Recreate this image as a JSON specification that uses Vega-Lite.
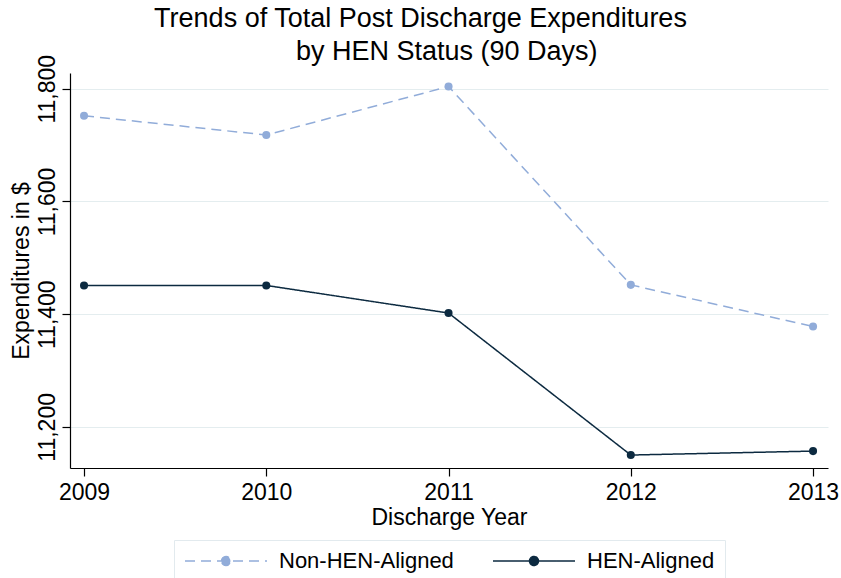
{
  "$schema": "https://vega.github.io/schema/vega-lite/v6.json",
  "width": 758,
  "height": 395,
  "autosize": {"type": "none"},
  "padding": {"left": 70, "top": 73, "right": 13, "bottom": 110},
  "background": "white",
  "title": {
    "text": ["Trends of Total Post Discharge Expenditures", "\u200b\u00a0\u00a0\u00a0\u00a0\u00a0\u00a0\u00a0by HEN Status (90 Days)"],
    "fontSize": 27,
    "font": "Liberation Sans",
    "fontWeight": "normal",
    "color": "black",
    "anchor": "middle",
    "dx": -28.5,
    "lineHeight": 33,
    "offset": -12
  },
  "data": {
    "values": [
      {"year": 2009, "group": "Non-HEN-Aligned", "value": 11752},
      {"year": 2010, "group": "Non-HEN-Aligned", "value": 11718},
      {"year": 2011, "group": "Non-HEN-Aligned", "value": 11804},
      {"year": 2012, "group": "Non-HEN-Aligned", "value": 11452},
      {"year": 2013, "group": "Non-HEN-Aligned", "value": 11378},
      {"year": 2009, "group": "HEN-Aligned", "value": 11451},
      {"year": 2010, "group": "HEN-Aligned", "value": 11451},
      {"year": 2011, "group": "HEN-Aligned", "value": 11402},
      {"year": 2012, "group": "HEN-Aligned", "value": 11150},
      {"year": 2013, "group": "HEN-Aligned", "value": 11157}
    ]
  },
  "encoding": {
    "x": {
      "field": "year",
      "type": "quantitative",
      "scale": {"domain": [2008.923, 2013.082], "nice": false, "zero": false},
      "axis": {"values": [2009, 2010, 2011, 2012, 2013], "format": "d", "title": "Discharge Year", "grid": false, "labelPadding": 5, "titlePadding": 2}
    },
    "y": {
      "field": "value",
      "type": "quantitative",
      "scale": {"domain": [11127, 11828], "nice": false, "zero": false},
      "axis": {"values": [11200, 11400, 11600, 11800], "format": ",d", "title": "Expenditures in $", "grid": true, "gridColor": "#e4edef", "labelAngle": -90, "labelPadding": 3, "titlePadding": 3}
    },
    "color": {
      "field": "group",
      "type": "nominal",
      "scale": {"domain": ["Non-HEN-Aligned", "HEN-Aligned"], "range": ["#91acd9", "#0c2a40"]},
      "legend": {"title": null}
    }
  },
  "layer": [
    {
      "mark": {"type": "line", "strokeWidth": 1.5},
      "encoding": {
        "strokeDash": {
          "field": "group",
          "type": "nominal",
          "scale": {"domain": ["Non-HEN-Aligned", "HEN-Aligned"], "range": [[10, 6], [1, 0]]},
          "legend": {"title": null}
        }
      }
    },
    {
      "mark": {"type": "point", "filled": true, "size": 65, "opacity": 1}
    }
  ],
  "config": {
    "view": {"stroke": null},
    "axis": {
      "labelFont": "Liberation Sans",
      "labelFontSize": 23,
      "labelColor": "black",
      "titleFont": "Liberation Sans",
      "titleFontSize": 23,
      "titleFontWeight": "normal",
      "titleColor": "black",
      "domainColor": "black",
      "domainWidth": 1.2,
      "tickColor": "black",
      "tickWidth": 1.2,
      "tickSize": 8
    },
    "legend": {
      "orient": "none",
      "legendX": 104,
      "legendY": 467,
      "direction": "horizontal",
      "padding": 10,
      "strokeColor": "#e2eaee",
      "columnPadding": 36,
      "labelFont": "Liberation Sans",
      "labelFontSize": 22,
      "labelColor": "black",
      "labelLimit": 300,
      "labelOffset": 42,
      "symbolType": "M-4.1,0L4.1,0M-0.45,0A0.45,0.45 0 1,1 0.45,0A0.45,0.45 0 1,1 -0.45,0Z",
      "symbolSize": 400,
      "symbolOffset": 31,
      "symbolStrokeWidth": 1.5,
      "symbolOpacity": 1
    }
  }
}
